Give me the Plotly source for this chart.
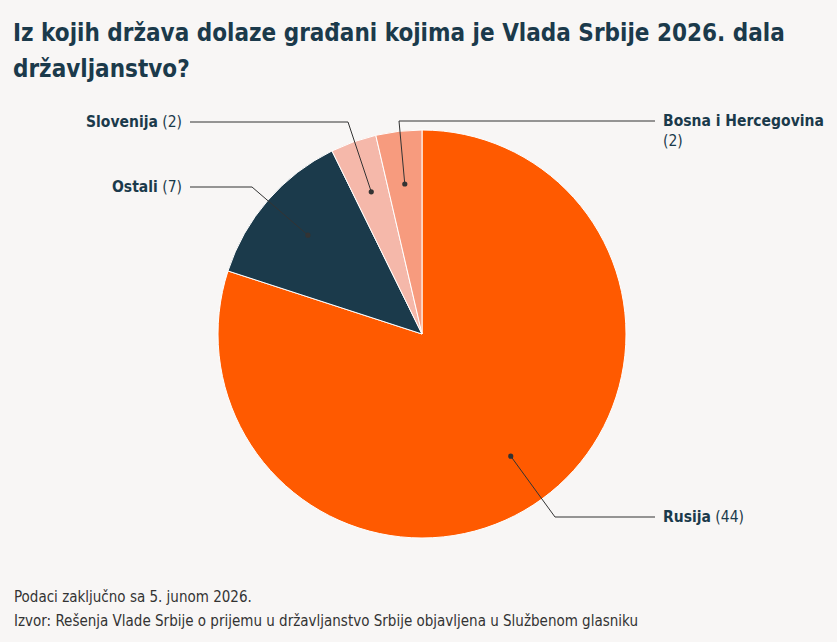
import math
import plotly.graph_objects as go

labels = ["Rusija", "Ostali", "Slovenija", "Bosna i Hercegovina"]
values = [44, 7, 2, 2]
colors = ["#FF5A00", "#1B3A4B", "#F5B8AA", "#F79B7E"]

title_lines = ["Iz kojih država dolaze građani kojima je Vlada Srbije 2026. dala", "državljanstvo?"]
note = "Podaci zaključno sa 5. junom 2026."
source = "Izvor: Rešenja Vlade Srbije o prijemu u državljanstvo Srbije objavljena u Službenom glasniku"

W, H = 837, 642
BG = "#F8F6F5"
TXT = "#1B3A4B"
FONT = "DejaVu Sans Condensed, Liberation Sans Narrow, Roboto, sans-serif"

# pie geometry (pixels)
CX, CY, R = 422, 334, 204

def px(x):
    return x / W

def py(y):
    return 1 - y / H

fig = go.Figure(go.Pie(
    labels=labels, values=values, sort=False, direction="clockwise", rotation=0,
    marker=dict(colors=colors, line=dict(color="white", width=1)),
    textinfo="none", hoverinfo="label+value", showlegend=False,
    domain=dict(x=[px(CX - R), px(CX + R)], y=[py(CY + R), py(CY - R)]),
))

# label layout: (elbow x, label y, side, text x)
label_pos = {
    "Rusija": (555, 517, "right", 655),
    "Ostali": (252, 187, "left", 190),
    "Slovenija": (348, 122, "left", 190),
    "Bosna i Hercegovina": (399, 121, "right", 655),
}

shapes = []
annotations = []
total = sum(values)
cum = 0
for lab, v in zip(labels, values):
    mid = (cum + v / 2) / total * 2 * math.pi
    cum += v
    rd = 0.74 * R
    dx = CX + rd * math.sin(mid)
    dy = CY - rd * math.cos(mid)
    ex, ly, side, tx = label_pos[lab]
    shapes.append(dict(type="path", xref="paper", yref="paper",
                       path=f"M {px(dx)} {py(dy)} L {px(ex)} {py(ly)} L {px(tx)} {py(ly)}",
                       line=dict(color="#333333", width=1)))
    rr = 2.6
    shapes.append(dict(type="circle", xref="paper", yref="paper",
                       x0=px(dx - rr), x1=px(dx + rr), y0=py(dy + rr), y1=py(dy - rr),
                       fillcolor="#333333", line=dict(width=0)))
    if lab == "Bosna i Hercegovina":
        text = f"<b>{lab}</b><br>({v})"
        annotations.append(dict(x=px(tx + 6), y=py(ly - 11), xref="paper", yref="paper",
                                text=text, showarrow=False, xanchor="left", yanchor="top",
                                align="left", font=dict(size=15.5, color=TXT, family=FONT)))
    else:
        text = f"<b>{lab}</b> ({v})"
        if side == "right":
            annotations.append(dict(x=px(tx + 6), y=py(ly), xref="paper", yref="paper",
                                    text=text, showarrow=False, xanchor="left", yanchor="middle",
                                    font=dict(size=15.5, color=TXT, family=FONT)))
        else:
            annotations.append(dict(x=px(tx - 6), y=py(ly), xref="paper", yref="paper",
                                    text=text, showarrow=False, xanchor="right", yanchor="middle",
                                    font=dict(size=15.5, color=TXT, family=FONT)))

for i, line in enumerate(title_lines):
    annotations.append(dict(x=px(11), y=py(33 + 36 * i), xref="paper", yref="paper",
                            xanchor="left", yanchor="middle", align="left", showarrow=False,
                            text=f"<b>{line}</b>",
                            font=dict(size=24, color=TXT, family=FONT)))
annotations.append(dict(x=px(12), y=py(597), xref="paper", yref="paper", xanchor="left", yanchor="middle",
                        showarrow=False, text=note,
                        font=dict(size=15, color="#333333", family=FONT)))
annotations.append(dict(x=px(12), y=py(621), xref="paper", yref="paper", xanchor="left", yanchor="middle",
                        showarrow=False, text=source,
                        font=dict(size=15, color="#333333", family=FONT)))

fig.update_layout(width=W, height=H, margin=dict(l=0, r=0, t=0, b=0),
                  paper_bgcolor=BG, plot_bgcolor=BG,
                  shapes=shapes, annotations=annotations)
fig.write_html("out.html")
